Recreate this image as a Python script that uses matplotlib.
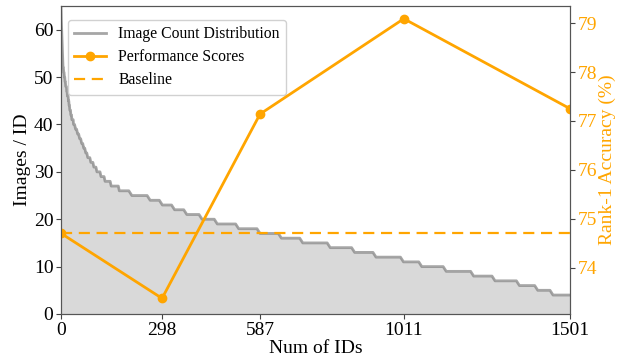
import numpy as np
import matplotlib
matplotlib.use("Agg")
import matplotlib.pyplot as plt

# Image count distribution (run-length: level, number of IDs)
levels = [65, 62, 60, 58, 56, 54, 52, 51, 50, 49, 48, 47, 46, 45, 44, 43, 42, 41, 40,
          39, 38, 37, 36, 35, 34, 33, 32, 31, 30, 29, 28, 27, 26, 25, 24, 23, 22, 21,
          20, 19, 18, 17, 16, 15, 14, 13, 12, 11, 10, 9, 8, 7, 6, 5, 4]
counts = [1, 1, 1, 1, 1, 1, 2, 2, 2, 2, 3, 2, 3, 2, 2, 3, 3, 5, 6,
          6, 6, 5, 6, 6, 7, 8, 9, 10, 10, 12, 20, 22, 38, 54, 35, 33, 41, 44,
          44, 59, 64, 64, 64, 83, 68, 65, 83, 50, 73, 79, 69, 64, 59, 48, 50]

# Performance
perf_x = [0, 298, 587, 1011, 1501]
perf_y = [74.70, 73.37, 77.14, 79.09, 77.25]
baseline = 74.70
xtick_labels = ["0", "298", "587", "1011", "1501"]

plt.rcParams['font.family'] = ['Liberation Serif', 'DejaVu Serif']

counts_per_id = np.repeat(levels, counts)
n = len(counts_per_id)
ids = np.arange(n)
# draw through a subset of IDs so the steps render as short ramps
sel = np.unique(np.concatenate([np.arange(0, 40), np.arange(40, 200, 3),
                                np.arange(200, n, 9), [n - 1]]))
xs = ids[sel]
ys = counts_per_id[sel]

fig = plt.figure(figsize=(6.18, 3.62), dpi=100)
ax = fig.add_axes([0.0987, 0.1326, 0.8236, 0.8508])
ax.fill_between(xs, ys, color='#d9d9d9', linewidth=0)
l1, = ax.plot(xs, ys, color='gray', alpha=0.7, lw=2,
              label='Image Count Distribution')
ax.set_xlim(0, 1501)
ax.set_ylim(0, 65)
ax.set_xticks(perf_x)
ax.set_xticklabels(xtick_labels)
ax.set_ylabel('Images / ID', fontsize=14, labelpad=2)
ax.set_xlabel('Num of IDs', fontsize=14, labelpad=1)
ax.tick_params(labelsize=14, color='#444444', pad=2)

ax2 = ax.twinx()
orange = '#FFA500'
l2, = ax2.plot(perf_x, perf_y, color=orange, lw=2, marker='o', markersize=6,
               label='Performance Scores')
l3 = ax2.axhline(baseline, color=orange, lw=1.6, ls='--', dashes=(5, 3), label='Baseline')
ax2.set_ylim(73.05, 79.35)
ax2.set_ylabel('Rank-1 Accuracy (%)', fontsize=14, color=orange, labelpad=1)
ax2.tick_params(labelsize=14, labelcolor=orange, color='#444444', pad=2)

for a in (ax, ax2):
    for s in a.spines.values():
        s.set_color('#555555')

leg = ax.legend(handles=[l1, l2, l3], loc='upper left', fontsize=11.3,
                bbox_to_anchor=(0.0138, 0.9545), borderaxespad=0.0, handlelength=2.0,
                framealpha=0.9, labelspacing=0.45)

fig.savefig('out.png', dpi=100)
